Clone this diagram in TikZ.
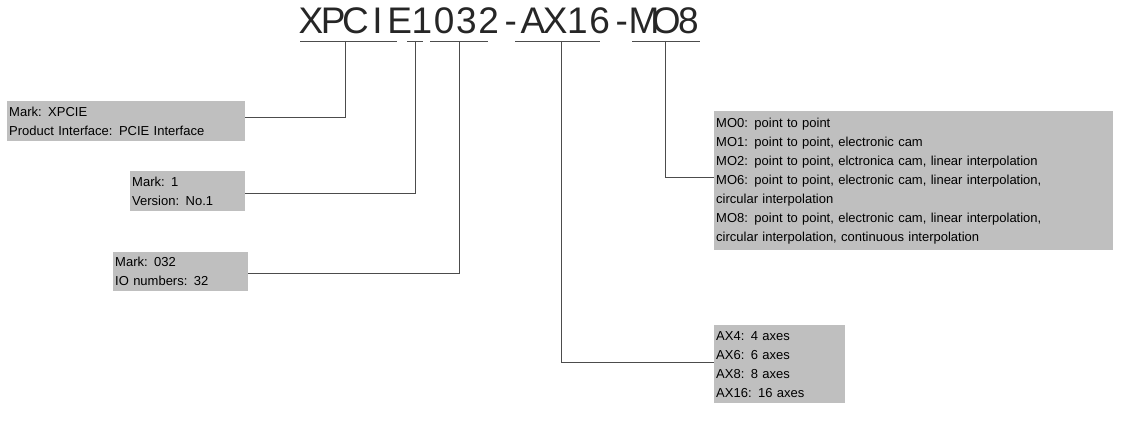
\documentclass[tikz,border=0pt]{standalone}
\usepackage{fontspec}
\setmainfont{Liberation Sans}
\usetikzlibrary{positioning}
\tikzset{infobox/.style={fill=black!25, anchor=north west, align=left, inner xsep=2pt, inner ysep=3pt, font=\fontsize{13}{19}\selectfont, minimum height=#1}}
\tikzset{line/.style={draw, black!70, line width=0.8pt}}
\tikzset{codechar/.style={inner sep=0pt, font=\fontsize{37}{37}\selectfont, text=black!85}}
\begin{document}
\begin{tikzpicture}[x=1pt,y=-1pt]
\useasboundingbox (0,0) rectangle (1141,433);
% title
\foreach \c [count=\i from 0] in {X,P,C,I,E,1,0,3,2,-,A,X,1,6,-,M,O,8}
  \node[codechar, anchor=base] (c\i) at (311+22.2*\i,34) {\c};
% underlines
\coordinate (u1a) at (300,41); \coordinate (u1b) at (397,41);
\coordinate (u2a) at (407,41); \coordinate (u2b) at (423,41);
\coordinate (u3a) at (430,41); \coordinate (u3b) at (488,41);
\coordinate (u4a) at (515,41); \coordinate (u4b) at (600,41);
\coordinate (u5a) at (632,41); \coordinate (u5b) at (700,41);
\foreach \k in {1,...,5} \path[line] (u\k a) -- (u\k b);
% boxes
\node[infobox=40pt, text width=234pt] (mark) at (7,101) {Mark: XPCIE\\Product Interface: PCIE Interface};
\node[infobox=40pt, text width=111pt] (ver) at (130,171) {Mark: 1\\Version: No.1};
\node[infobox=39pt, text width=131pt] (io) at (113,252) {Mark: 032\\IO numbers: 32};
\node[infobox=139pt, text width=395pt] (mo) at (714,111) {MO0: point to point\\MO1: point to point, electronic cam\\MO2: point to point, elctronica cam, linear interpolation\\MO6: point to point, electronic cam, linear interpolation,\\circular interpolation\\MO8: point to point, electronic cam, linear interpolation,\\circular interpolation, continuous interpolation};
\node[infobox=78pt, text width=127pt] (ax) at (714,325) {AX4: 4 axes\\AX6: 6 axes\\AX8: 8 axes\\AX16: 16 axes};
% connectors
\path[line] (345,41) |- (mark.east |- 0,117);
\path[line] (415,41) |- (ver.east |- 0,193);
\path[line] (459,41) |- (io.east |- 0,273);
\path[line] (561,41) |- (ax.west |- 0,362);
\path[line] (665,41) |- (mo.west |- 0,177);
\end{tikzpicture}
\end{document}
